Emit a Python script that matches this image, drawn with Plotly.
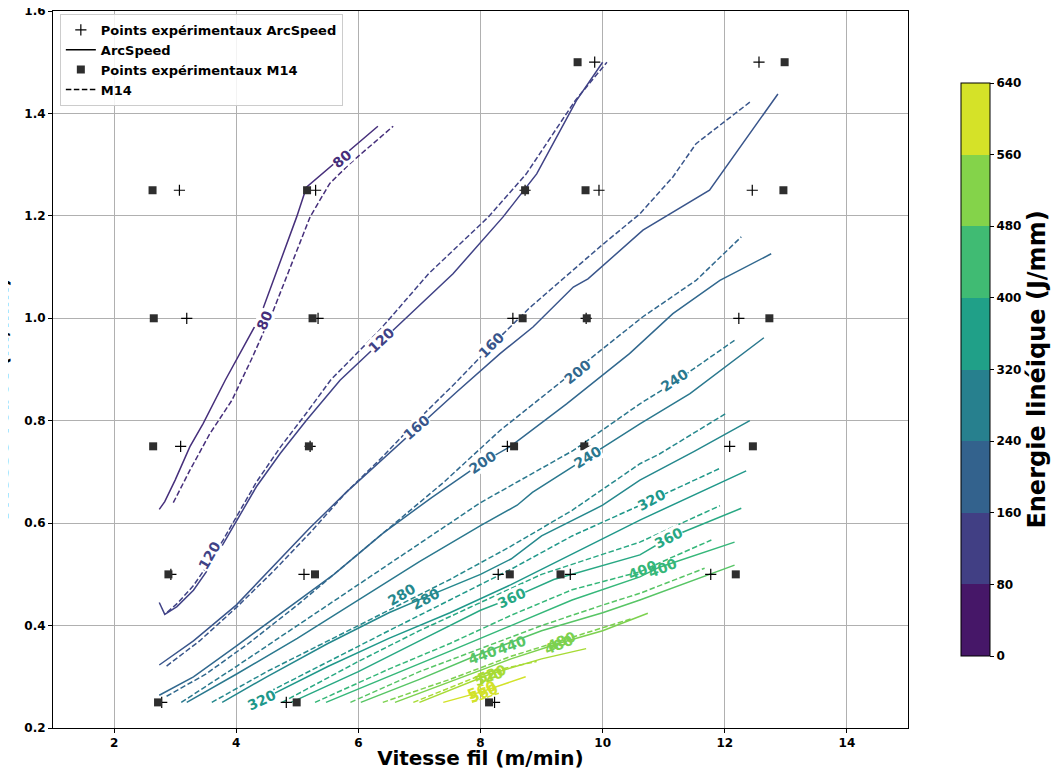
import plotly.graph_objects as go
from plotly.colors import sample_colorscale

# ---------------- data ----------------
# experimental points (wire speed m/min, robot speed m/min)
arc_pts_x = [9.87, 12.56, 3.07, 5.30, 8.73, 9.94, 12.45, 3.19, 5.34, 8.53, 9.73, 12.23,
             3.09, 5.21, 8.44, 9.72, 12.08, 2.93, 5.11, 8.29, 9.47, 11.77, 2.78, 4.82, 8.23]
arc_pts_y = [1.5, 1.5, 1.25, 1.25, 1.25, 1.25, 1.25, 1.0, 1.0, 1.0, 1.0, 1.0,
             0.75, 0.75, 0.75, 0.75, 0.75, 0.5, 0.5, 0.5, 0.5, 0.5, 0.25, 0.25, 0.25]
m14_pts_x = [9.59, 12.98, 2.63, 5.16, 8.73, 9.72, 12.96, 2.65, 5.25, 8.69, 9.74, 12.73,
             2.64, 5.19, 8.55, 9.70, 12.46, 2.89, 5.29, 8.48, 9.31, 12.18, 2.72, 4.99, 8.14]
m14_pts_y = [1.5, 1.5, 1.25, 1.25, 1.25, 1.25, 1.25, 1.0, 1.0, 1.0, 1.0, 1.0,
             0.75, 0.75, 0.75, 0.75, 0.75, 0.5, 0.5, 0.5, 0.5, 0.5, 0.25, 0.25, 0.25]

levels = [80, 120, 160, 200, 240, 280, 320, 360, 400, 440, 480, 520, 560]

# iso-energy lines, ArcSpeed (solid)
arc_80 = [(2.74, 0.627), (2.83, 0.642), (3.00, 0.684), (3.24, 0.749), (3.46, 0.795), (3.82, 0.879),
          (4.39, 1.003), (4.99, 1.198), (5.15, 1.256), (5.73, 1.315), (6.32, 1.375)]
arc_120 = [(2.74, 0.445), (2.83, 0.422), (3.03, 0.437), (3.30, 0.469), (3.57, 0.515), (3.79, 0.560),
           (4.01, 0.606), (4.33, 0.671), (4.72, 0.736), (5.15, 0.801), (5.70, 0.879), (6.57, 0.977),
           (7.55, 1.087), (8.37, 1.198), (8.92, 1.282), (9.57, 1.425), (10.0, 1.5)]
arc_160 = [(2.74, 0.323), (3.3, 0.37), (4.0, 0.44), (4.6, 0.515), (5.2, 0.59), (5.8, 0.66), (6.4, 0.725),
           (6.96, 0.787), (7.6, 0.855), (8.32, 0.931), (8.86, 0.983), (9.52, 1.061), (9.76, 1.077),
           (10.66, 1.172), (11.75, 1.25), (12.87, 1.438)]
arc_200 = [(2.74, 0.264), (3.3, 0.30), (4.0, 0.36), (4.8, 0.43), (5.6, 0.50), (6.4, 0.58), (7.2, 0.65),
           (8.04, 0.719), (8.48, 0.749), (9.41, 0.833), (10.44, 0.931), (11.15, 1.009), (11.92, 1.074),
           (12.76, 1.126)]
arc_240 = [(3.19, 0.25), (4.0, 0.305), (5.0, 0.375), (6.0, 0.45), (7.0, 0.525), (8.0, 0.595), (8.6, 0.635),
           (8.85, 0.66), (9.76, 0.729), (10.61, 0.794), (11.43, 0.853), (12.64, 0.962)]
arc_280 = [(3.77, 0.25), (4.5, 0.30), (5.5, 0.365), (6.5, 0.425), (7.07, 0.454), (8.0, 0.50), (8.5, 0.53),
           (9.0, 0.575), (10.0, 0.635), (10.61, 0.684), (11.5, 0.74), (12.41, 0.80)]
arc_320 = [(4.33, 0.25), (5.5, 0.32), (6.5, 0.375), (7.5, 0.425), (8.5, 0.48), (9.5, 0.54), (10.61, 0.606),
           (12.35, 0.702)]
arc_360 = [(4.9, 0.25), (6.0, 0.31), (7.0, 0.37), (8.0, 0.43), (8.54, 0.455), (9.2, 0.49), (10.61, 0.538),
           (11.08, 0.571), (12.27, 0.629)]
arc_400 = [(5.47, 0.25), (6.5, 0.30), (7.5, 0.35), (8.5, 0.40), (9.5, 0.45), (10.61, 0.495), (10.93, 0.514),
           (12.16, 0.563)]
arc_440 = [(6.04, 0.25), (7.0, 0.295), (8.0, 0.345), (9.0, 0.39), (10.0, 0.425), (10.61, 0.45), (12.16, 0.518)]
arc_480 = [(6.6, 0.25), (7.5, 0.29), (8.5, 0.335), (9.3, 0.366), (10.0, 0.39), (10.74, 0.424)]
arc_520 = [(7.0, 0.25), (8.15, 0.305), (9.0, 0.335), (9.73, 0.355)]
arc_560 = [(7.39, 0.25), (8.0, 0.27), (8.74, 0.30)]

# iso-energy lines, M14 (dashed)
m14_80 = [(2.97, 0.640), (3.24, 0.703), (3.57, 0.775), (3.93, 0.840), (4.25, 0.92), (4.61, 1.016),
          (4.93, 1.113), (5.21, 1.198), (5.53, 1.263), (5.86, 1.302), (6.57, 1.375)]
m14_120 = [(2.87, 0.426), (3.05, 0.445), (3.30, 0.478), (3.57, 0.525), (3.79, 0.568), (4.01, 0.614),
           (4.33, 0.680), (4.72, 0.748), (5.15, 0.815), (5.55, 0.88), (6.35, 0.977), (7.15, 1.087),
           (8.13, 1.198), (8.75, 1.282), (9.55, 1.425), (10.07, 1.5)]
m14_160 = [(2.86, 0.321), (3.4, 0.37), (4.0, 0.435), (4.6, 0.505), (5.2, 0.58), (5.8, 0.66), (6.4, 0.73),
           (6.96, 0.80), (7.6, 0.875), (8.18, 0.947), (8.8, 1.02), (9.95, 1.139), (10.61, 1.204),
           (11.15, 1.276), (11.53, 1.341), (12.41, 1.422)]
m14_200 = [(2.86, 0.262), (3.5, 0.305), (4.2, 0.365), (5.0, 0.44), (5.8, 0.52), (6.6, 0.60), (7.4, 0.68),
           (8.32, 0.781), (9.0, 0.845), (9.57, 0.899), (10.66, 1.003), (11.53, 1.074), (12.27, 1.159)]
m14_240 = [(3.10, 0.25), (4.0, 0.32), (5.0, 0.40), (6.0, 0.48), (7.0, 0.56), (8.0, 0.64), (9.52, 0.742),
           (10.61, 0.833), (11.15, 0.873), (12.16, 0.957)]
m14_280 = [(3.6, 0.25), (4.5, 0.31), (5.5, 0.37), (6.72, 0.444), (7.5, 0.49), (8.5, 0.555), (9.5, 0.625),
           (10.61, 0.716), (10.93, 0.735), (12.03, 0.815)]
m14_320 = [(4.2, 0.25), (5.5, 0.33), (6.5, 0.39), (7.5, 0.45), (8.5, 0.51), (9.5, 0.575), (10.80, 0.645),
           (11.92, 0.707)]
m14_360 = [(4.75, 0.25), (6.0, 0.33), (7.0, 0.39), (8.0, 0.445), (9.0, 0.50), (10.61, 0.563), (11.92, 0.634)]
m14_400 = [(5.29, 0.25), (6.5, 0.315), (7.5, 0.365), (8.5, 0.42), (9.5, 0.47), (10.61, 0.505),
           (11.15, 0.534), (11.78, 0.567)]
m14_440 = [(5.87, 0.25), (7.0, 0.31), (8.0, 0.355), (9.0, 0.40), (10.0, 0.44), (10.61, 0.463), (11.67, 0.512)]
m14_480 = [(6.40, 0.25), (7.5, 0.295), (8.5, 0.34), (9.3, 0.37), (10.49, 0.414)]
m14_520 = [(6.9, 0.25), (8.15, 0.31), (8.92, 0.33)]
m14_560 = [(7.86, 0.25), (8.30, 0.268)]

arc_lines = [arc_80, arc_120, arc_160, arc_200, arc_240, arc_280, arc_320, arc_360, arc_400,
             arc_440, arc_480, arc_520, arc_560]
m14_lines = [m14_80, m14_120, m14_160, m14_200, m14_240, m14_280, m14_320, m14_360, m14_400,
             m14_440, m14_480, m14_520, m14_560]

# contour labels: (level, x, y, angle)
contour_labels = [
    (80, 5.73, 1.312, -40), (80, 4.47, 0.996, -66),
    (120, 3.57, 0.537, -60), (120, 6.38, 0.957, -43),
    (160, 6.96, 0.787, -41), (160, 8.18, 0.947, -45),
    (200, 8.04, 0.719, -34), (200, 9.59, 0.895, -39),
    (240, 9.76, 0.729, -31), (240, 11.18, 0.879, -33),
    (280, 6.70, 0.460, -30), (280, 7.10, 0.452, -28),
    (320, 4.42, 0.255, -25), (320, 10.80, 0.645, -28),
    (360, 8.51, 0.454, -25), (360, 11.08, 0.571, -27),
    (400, 10.65, 0.508, -22), (400, 10.98, 0.512, -22),
    (440, 8.04, 0.342, -20), (440, 8.51, 0.362, -20),
    (480, 9.27, 0.363, -22), (480, 9.33, 0.369, -22),
    (520, 8.13, 0.300, -20), (520, 8.18, 0.306, -20),
    (560, 8.02, 0.274, -20), (560, 8.05, 0.268, -20),
]

cbar_ticks = [0, 80, 160, 240, 320, 400, 480, 560, 640]
x_ticks = [2, 4, 6, 8, 10, 12, 14]
y_ticks = [0.2, 0.4, 0.6, 0.8, 1.0, 1.2, 1.4, 1.6]

# ---------------- figure ----------------
FONT = "DejaVu Sans"
DASH = "5.5px,2.5px"


def level_color(v):
    return sample_colorscale("Viridis", [v / 600.0])[0]


fig = go.Figure()

for lev, pts in zip(levels, arc_lines):
    fig.add_trace(go.Scatter(x=[p[0] for p in pts], y=[p[1] for p in pts], mode="lines",
                             line=dict(color=level_color(lev), width=1.5),
                             showlegend=False, hoverinfo="skip"))
for lev, pts in zip(levels, m14_lines):
    fig.add_trace(go.Scatter(x=[p[0] for p in pts], y=[p[1] for p in pts], mode="lines",
                             line=dict(color=level_color(lev), width=1.5, dash=DASH),
                             showlegend=False, hoverinfo="skip"))

fig.add_trace(go.Scatter(x=arc_pts_x, y=arc_pts_y, mode="markers", name="Points expérimentaux ArcSpeed",
                         marker=dict(symbol="cross-thin", size=8, line=dict(color="black", width=1.2)),
                         legendrank=1))
fig.add_trace(go.Scatter(x=[None], y=[None], mode="lines", name="ArcSpeed",
                         line=dict(color="black", width=1.5), legendrank=2))
fig.add_trace(go.Scatter(x=m14_pts_x, y=m14_pts_y, mode="markers", name="Points expérimentaux M14",
                         marker=dict(symbol="square", size=8, color="#2e2e2e"), legendrank=3))
fig.add_trace(go.Scatter(x=[None], y=[None], mode="lines", name="M14",
                         line=dict(color="black", width=1.5, dash=DASH), legendrank=4))

# discrete colour bar
band_cols = sample_colorscale("Viridis", [(i + 0.5) / 8 for i in range(8)])
cscale = []
for i, c in enumerate(band_cols):
    cscale.append([i / 8, c])
    cscale.append([(i + 1) / 8, c])
fig.add_trace(go.Scatter(x=[None], y=[None], mode="markers", showlegend=False, hoverinfo="skip",
                         marker=dict(color=[0], cmin=0, cmax=640, colorscale=cscale, showscale=True,
                                     colorbar=dict(x=1.062, xanchor="left", y=0.5, yanchor="middle",
                                                   thickness=29, len=573, lenmode="pixels",
                                                   outlinewidth=1, outlinecolor="black", xpad=0, ypad=0,
                                                   tickvals=cbar_ticks, ticks="outside", ticklen=4,
                                                   tickcolor="black",
                                                   tickfont=dict(family=FONT, size=12, color="black",
                                                                 weight="bold"),
                                                   title=dict(text="Energie linéique (J/mm)", side="right",
                                                              font=dict(family=FONT, size=24, color="black",
                                                                        weight="bold"))))))

for lev, lx, ly, ang in contour_labels:
    clear = lev >= 400 or lev == 280
    fig.add_annotation(x=lx, y=ly, text=str(lev), showarrow=False, textangle=ang,
                       font=dict(family=FONT, size=14, color=level_color(lev), weight="bold"),
                       bgcolor="rgba(255,255,255,0)" if clear else "white", borderpad=0)

# clipped y-axis title (as in the original, only its edge is visible)
fig.add_annotation(xref="paper", yref="paper", x=-0.044, y=0.457, xanchor="right", yanchor="middle",
                   text="Vitesse robot (m/min)", textangle=-90, showarrow=False,
                   font=dict(family=FONT, size=20, color="black", weight="bold"))

axis_common = dict(showline=True, linecolor="black", linewidth=1, mirror=True, ticks="outside",
                   ticklen=4, tickcolor="black", showgrid=True, gridcolor="#b0b0b0", gridwidth=1,
                   zeroline=False, tickfont=dict(family=FONT, size=12, color="black", weight="bold"))

# the page adds an 8 px body margin: the figure is sized so that the plot lands where the original's does
fig.update_layout(
    width=1043, height=762,
    margin=dict(l=45, r=143, t=3, b=42, autoexpand=False),
    paper_bgcolor="white", plot_bgcolor="white",
    xaxis=dict(range=[1, 15], tickvals=x_ticks, **axis_common,
               title=dict(text="Vitesse fil (m/min)", standoff=16,
                          font=dict(family=FONT, size=20, color="black", weight="bold"))),
    yaxis=dict(range=[0.2, 1.600001], tickvals=y_ticks, tickformat=".1f", ticklabeloverflow="allow",
               **axis_common),
    legend=dict(x=0.008, y=0.996, xanchor="left", yanchor="top", bgcolor="rgba(255,255,255,0.85)",
                bordercolor="#cccccc", borderwidth=1,
                font=dict(family=FONT, size=13, color="black", weight="bold"), itemwidth=30,
                tracegroupgap=0),
    showlegend=True,
)

fig.write_html("out.html")
